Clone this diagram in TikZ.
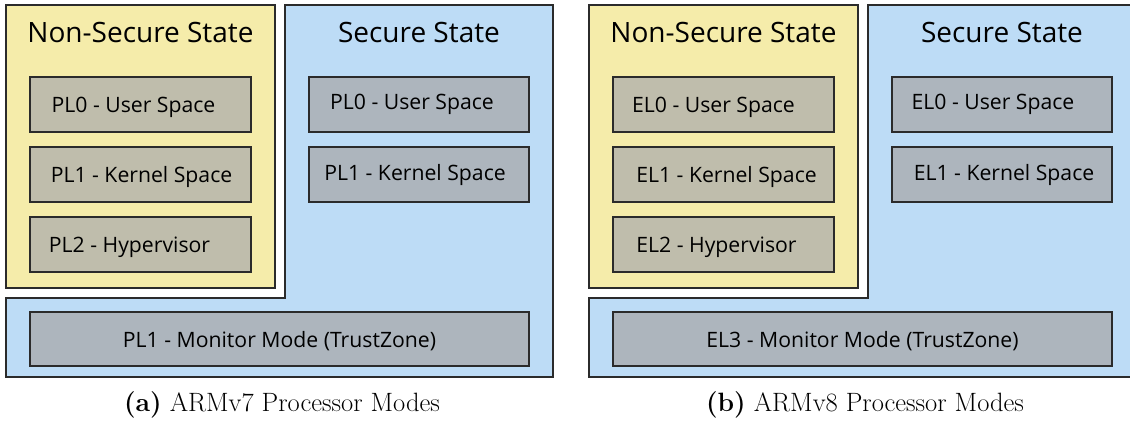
\documentclass[tikz,border=0pt]{standalone}
\usepackage{fontspec}
\newfontfamily\diagfont{Open Sans}
\definecolor{nsyellow}{HTML}{F5ECAA}
\definecolor{sblue}{HTML}{BDDCF6}
\definecolor{nsgray}{HTML}{BFBDAC}
\definecolor{sgray}{HTML}{ADB5BD}
\definecolor{edgegray}{HTML}{2B2B2B}
\tikzset{
  nsstate/.style={draw=edgegray, line width=1.3pt, fill=nsyellow},
  sstate/.style={draw=edgegray, line width=1.3pt, fill=sblue},
  statetitle/.style={font=\diagfont\fontsize{28}{30}\selectfont, anchor=base, inner sep=0pt},
  nsmode/.style={draw=edgegray, line width=1.3pt, fill=nsgray, minimum width=221pt, minimum height=55pt, inner sep=0pt},
  smode/.style={nsmode, fill=sgray, minimum width=220pt},
  monmode/.style={nsmode, fill=sgray, minimum width=499pt, minimum height=54pt},
  modetext/.style={font=\diagfont\fontsize{21.2}{24}\selectfont, anchor=base, inner sep=0pt},
  subcap/.style={font=\fontsize{26.5}{30}\selectfont, anchor=base, inner sep=0pt}
}
\begin{document}
\begin{tikzpicture}[x=1pt, y=-1pt]
  \useasboundingbox (0,0) rectangle (1130,428);
  \clip (0,0) rectangle (1130,428);

  % (a) ARMv7
  \draw[sstate] (285,5) -- (553,5) -- (553,377) -- (6,377) -- (6,298) -- (285,298) -- cycle;
  \draw[nsstate] (6,5) rectangle (275,288);
  \node[statetitle] (ansT) at (140.5,42.5) {Non-Secure State};
  \node[statetitle] (asT) at (419,42.5) {Secure State};

  \node[nsmode] (ans0) at (140.5,104.5) {};
  \node[nsmode] (ans1) at (140.5,174.5) {};
  \node[nsmode] (ans2) at (140.5,244.5) {};
  \node[smode] (as0) at (419,104.5) {};
  \node[smode] (as1) at (419,174.5) {};
  \node[monmode] (amon) at (279.5,339) {};

  \node[modetext, xshift=-7pt] (ans0t) at (140.5,112) {PL0 - User Space};
  \node[modetext, xshift=1pt] (ans1t) at (140.5,182) {PL1 - Kernel Space};
  \node[modetext, xshift=-11pt] (ans2t) at (140.5,252) {PL2 - Hypervisor};
  \node[modetext, xshift=-7pt] (as0t) at (419,110) {PL0 - User Space};
  \node[modetext, xshift=-4pt] (as1t) at (419,180) {PL1 - Kernel Space};
  \node[modetext] (amont) at (279.5,347) {PL1 - Monitor Mode (TrustZone)};

  \node[subcap] (acap) at (282,411) {\textbf{(a)} ARMv7 Processor Modes};

  % (b) ARMv8
  \draw[sstate] (868,5) -- (1136,5) -- (1136,377) -- (589,377) -- (589,298) -- (868,298) -- cycle;
  \draw[nsstate] (589,5) rectangle (858,288);
  \node[statetitle] (bnsT) at (723.5,42.5) {Non-Secure State};
  \node[statetitle] (bsT) at (1002,42.5) {Secure State};

  \node[nsmode] (bns0) at (723.5,104.5) {};
  \node[nsmode] (bns1) at (723.5,174.5) {};
  \node[nsmode] (bns2) at (723.5,244.5) {};
  \node[smode] (bs0) at (1002,104.5) {};
  \node[smode] (bs1) at (1002,174.5) {};
  \node[monmode] (bmon) at (862.5,339) {};

  \node[modetext, xshift=-10pt] (bns0t) at (723.5,112) {EL0 - User Space};
  \node[modetext, xshift=3pt] (bns1t) at (723.5,182) {EL1 - Kernel Space};
  \node[modetext, xshift=-7pt] (bns2t) at (723.5,252) {EL2 - Hypervisor};
  \node[modetext, xshift=-9pt] (bs0t) at (1002,110) {EL0 - User Space};
  \node[modetext, xshift=2pt] (bs1t) at (1002,180) {EL1 - Kernel Space};
  \node[modetext] (bmont) at (862.5,347) {EL3 - Monitor Mode (TrustZone)};

  \node[subcap] (bcap) at (865,411) {\textbf{(b)} ARMv8 Processor Modes};
\end{tikzpicture}
\end{document}
